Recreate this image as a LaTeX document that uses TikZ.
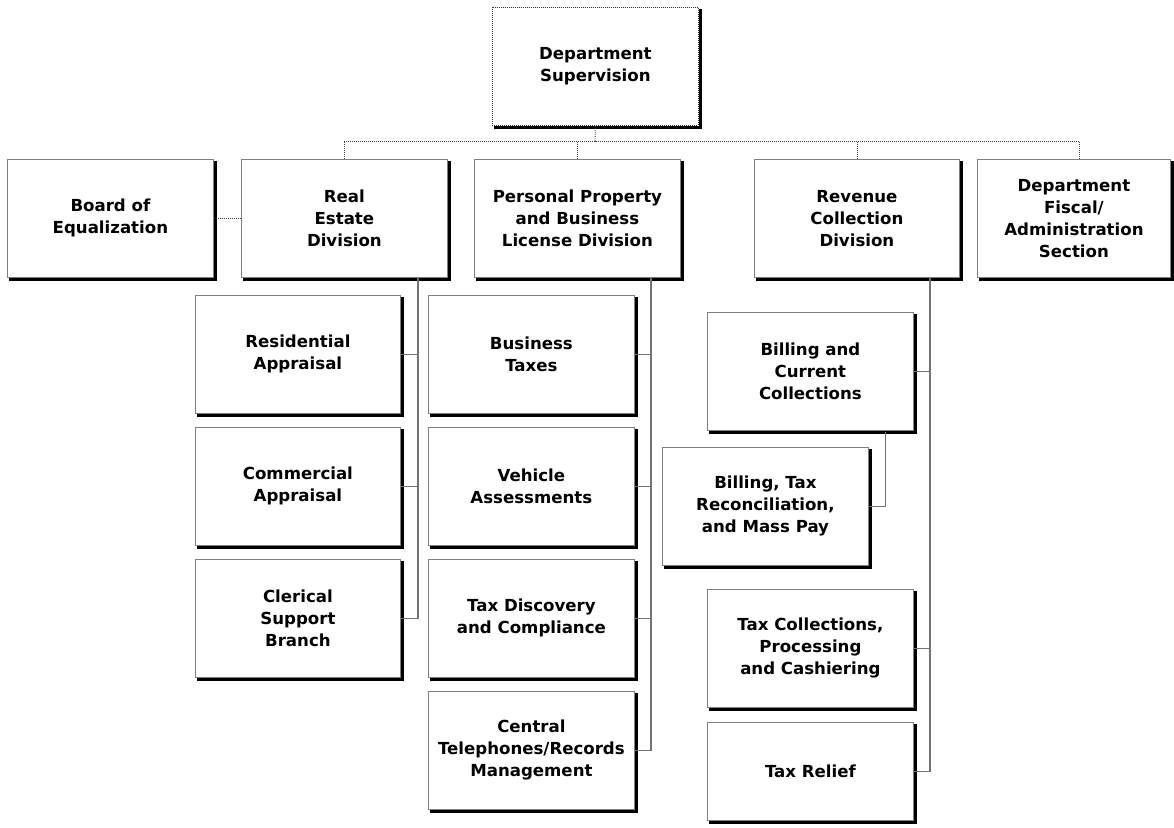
\documentclass[tikz,border=0pt]{standalone}
\usepackage{fontspec}
\setmainfont{DejaVu Sans}
\definecolor{bordergray}{RGB}{128,128,128}
\definecolor{linegray}{RGB}{115,115,115}
\begin{document}
\begin{tikzpicture}[x=1pt,y=-1pt,
  box/.style={draw=bordergray, line width=0.8pt, fill=white, anchor=north west,
    inner sep=0pt, align=center, minimum height=118pt,
    font=\fontsize{16.6}{22}\selectfont\bfseries},
  topbox/.style={box, dash pattern=on 1pt off 1pt, draw=black!80},
  conn/.style={draw=linegray, line width=1.1pt},
  dotline/.style={draw=black!75, line width=0.8pt, dash pattern=on 1pt off 1pt},
  shadowline/.style={draw=black, line width=3pt, line join=miter}
]
\useasboundingbox (0,0) rectangle (1174,827);

% top
\node[topbox, minimum width=206pt] (top) at (492,7) {Department\\Supervision};

% divisions
\node[box, minimum width=206pt] (board) at (7,159) {Board of\\Equalization};
\node[box, minimum width=206pt] (re) at (241,159) {Real\\Estate\\Division};
\node[box, minimum width=206pt] (pp) at (474,159) {Personal Property\\and Business\\License Division};
\node[box, minimum width=205pt] (rc) at (754,159) {Revenue\\Collection\\Division};
\node[box, minimum width=193pt] (fa) at (977,159) {Department\\Fiscal/\\Administration\\Section};

% real estate column
\node[box, minimum width=205pt] (res) at (195,295) {Residential\\Appraisal};
\node[box, minimum width=205pt] (com) at (195,427) {Commercial\\Appraisal};
\node[box, minimum width=205pt] (cle) at (195,559) {Clerical\\Support\\Branch};

% personal property column
\node[box, minimum width=206pt] (bus) at (428,295) {Business\\Taxes};
\node[box, minimum width=206pt] (veh) at (428,427) {Vehicle\\Assessments};
\node[box, minimum width=206pt] (tdc) at (428,559) {Tax Discovery\\and Compliance};
\node[box, minimum width=206pt] (ctr) at (428,691) {Central\\Telephones/Records\\Management};

% revenue column
\node[box, minimum width=206pt] (bcc) at (707,312) {Billing and\\Current\\Collections};
\node[box, minimum width=206pt] (btr) at (662,447) {Billing, Tax\\Reconciliation,\\and Mass Pay};
\node[box, minimum width=206pt] (tcp) at (707,589) {Tax Collections,\\Processing\\and Cashiering};
\node[box, minimum width=206pt, minimum height=98pt] (trl) at (707,722) {Tax Relief};

% shadows
\foreach \n in {top,board,re,pp,rc,fa,res,com,cle,bus,veh,tdc,ctr,bcc,btr,tcp,trl}
  \draw[shadowline] ([xshift=1.5pt,yshift=-2pt]\n.north east)
     -- ([xshift=1.5pt,yshift=-1.5pt]\n.south east)
     -- ([xshift=2pt,yshift=-1.5pt]\n.south west);

% dotted top connectors
\coordinate (j) at (595,141);
\draw[dotline] (top.south) -- (j);
\draw[dotline] (re.north) |- (j);
\draw[dotline] ([xshift=5.5pt]fa.north) |- (j);
\draw[dotline] (pp.north) -- (pp.north |- j);
\draw[dotline] (rc.north) -- (rc.north |- j);
\draw[dotline] (board) -- (re);

% real estate branch
\coordinate (reb) at (418,277);
\draw[conn] (reb) |- (cle.east);
\draw[conn] (res.east) -- (res.east -| reb);
\draw[conn] (com.east) -- (com.east -| reb);

% personal property branch
\coordinate (ppb) at (651,277);
\draw[conn] (ppb) |- (ctr.east);
\draw[conn] (bus.east) -- (bus.east -| ppb);
\draw[conn] (veh.east) -- (veh.east -| ppb);
\draw[conn] (tdc.east) -- (tdc.east -| ppb);

% revenue branch
\coordinate (rcb) at (930,277);
\draw[conn] (rcb) |- (trl.east);
\draw[conn] (bcc.east) -- (bcc.east -| rcb);
\draw[conn] (tcp.east) -- (tcp.east -| rcb);
\draw[conn] ([xshift=75pt,yshift=-1.5pt]bcc.south) |- (btr.east);
\end{tikzpicture}
\end{document}
